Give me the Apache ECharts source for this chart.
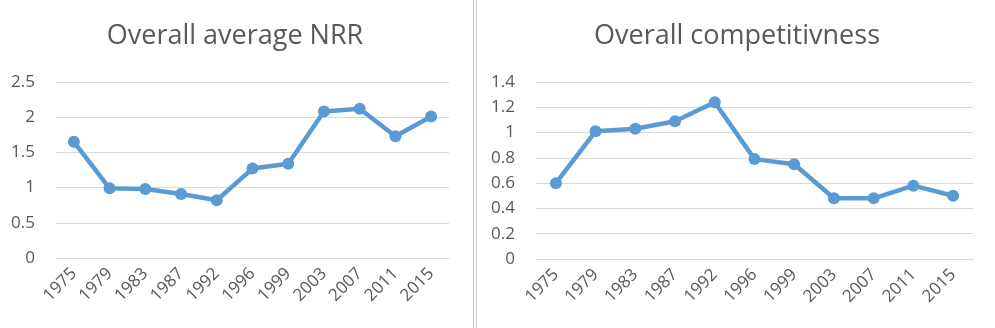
<!DOCTYPE html>
<html>
<head>
<meta charset="utf-8">
<script src="https://cdn.jsdelivr.net/npm/echarts@6/dist/echarts.min.js"></script>
<style>
html,body{margin:0;padding:0;background:#fff;}
#c{width:995px;height:328px;}
</style>
</head>
<body>
<div id="c"></div>
<script>
const years = ['1975','1979','1983','1987','1992','1996','1999','2003','2007','2011','2015'];
const nrrValues = [1.65, 0.99, 0.98, 0.91, 0.82, 1.27, 1.34, 2.08, 2.12, 1.73, 2.01];
const compValues = [0.60, 1.01, 1.03, 1.09, 1.24, 0.79, 0.75, 0.48, 0.48, 0.58, 0.50];
const titles = ['Overall average NRR', 'Overall competitivness'];

const FONT = '"Open Sans", sans-serif';
const chart = echarts.init(document.getElementById('c'), null, {renderer: 'canvas'});
const lineColor = '#5b9bd5';

function xAxis(gi) {
  return {
    type: 'category', gridIndex: gi, data: years, boundaryGap: true,
    axisLine: {show: true, lineStyle: {color: '#d9d9d9', width: 1}},
    axisTick: {show: false},
    axisLabel: {rotate: 45, color: '#595959', fontFamily: FONT, fontSize: 17, margin: 13, interval: 0}
  };
}
function yAxis(gi, max, interval) {
  return {
    type: 'value', gridIndex: gi, min: 0, max: max, interval: interval,
    axisLine: {show: false}, axisTick: {show: false},
    splitLine: {lineStyle: {color: '#d9d9d9', width: 1}},
    axisLabel: {color: '#595959', fontFamily: FONT, fontSize: 17, margin: 21}
  };
}
function series(gi, data) {
  return {
    type: 'line', xAxisIndex: gi, yAxisIndex: gi, data: data,
    symbol: 'circle', symbolSize: 12, animation: false,
    lineStyle: {color: lineColor, width: 4.5},
    itemStyle: {color: lineColor}
  };
}

chart.setOption({
  animation: false,
  title: [
    {text: titles[0], left: 230, top: 18, textAlign: 'center',
     textStyle: {fontFamily: FONT, fontSize: 27, fontWeight: 'normal', color: '#595959'}},
    {text: titles[1], left: 732, top: 18, textAlign: 'center',
     textStyle: {fontFamily: FONT, fontSize: 27, fontWeight: 'normal', color: '#595959'}}
  ],
  grid: [
    {left: 56, right: 546, top: 82, bottom: 70},
    {left: 536, right: 22, top: 82, bottom: 69}
  ],
  xAxis: [xAxis(0), xAxis(1)],
  yAxis: [yAxis(0, 2.5, 0.5), yAxis(1, 1.4, 0.2)],
  series: [series(0, nrrValues), series(1, compValues)],
  graphic: [
    {type: 'line', shape: {x1: 473.5, y1: 0, x2: 473.5, y2: 328}, style: {stroke: '#d0d0d0', lineWidth: 1}},
    {type: 'line', shape: {x1: 476.5, y1: 0, x2: 476.5, y2: 328}, style: {stroke: '#d0d0d0', lineWidth: 1}}
  ]
});
</script>
</body>
</html>
